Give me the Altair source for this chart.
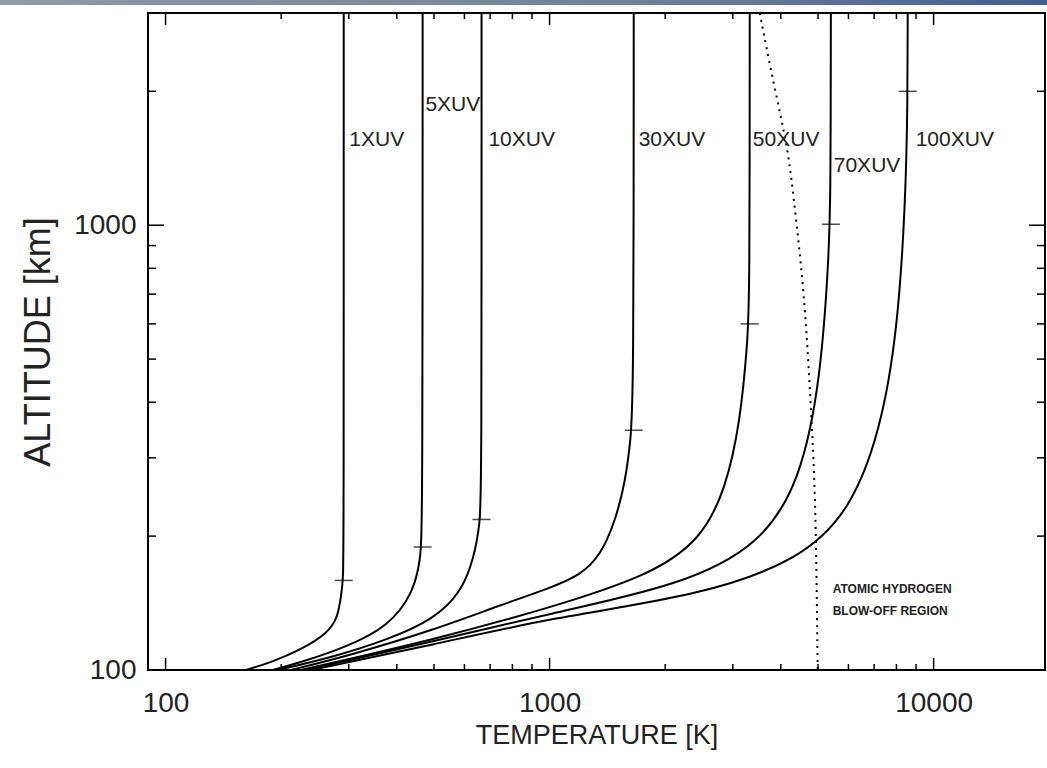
import altair as alt
import pandas as pd

# ---- data ----
curve_names = ["1XUV", "5XUV", "10XUV", "30XUV", "50XUV", "70XUV", "100XUV"]

T_1XUV = [162, 188, 225, 264, 281, 287, 290, 291, 291]
Z_1XUV = [100, 104, 111, 121, 131, 149, 159, 200, 3000]

T_5XUV = [190, 225, 298, 379, 442, 461, 467, 467]
Z_5XUV = [100, 104, 113, 125, 149, 177, 210, 3000]

T_10XUV = [196, 274, 379, 499, 587, 634, 660, 665, 665]
Z_10XUV = [100, 107, 117, 130, 149, 177, 215, 260, 3000]

T_30XUV = [212, 303, 499, 746, 1006, 1204, 1358, 1485, 1577, 1625, 1655, 1656]
Z_30XUV = [100, 108, 123, 140, 153, 163.5, 181, 217, 267, 329, 404, 3000]

T_50XUV = [225, 499, 1006, 1833, 2472, 2873, 3143, 3278, 3318, 3320]
Z_50XUV = [100, 117, 138, 163.5, 196, 254, 365, 551, 678, 3000]

T_70XUV = [231, 499, 1006, 2193, 3544, 4504, 5077, 5329, 5393, 5400]
Z_70XUV = [100, 116, 134, 155, 191, 267, 449, 834, 1138, 3000]

T_100XUV = [239, 499, 1006, 2472, 4504, 6080, 7278, 8059, 8455, 8557, 8560]
Z_100XUV = [100, 114, 131, 147, 177, 229, 346, 581, 1138, 1910, 3000]

# tick-like markers on each curve
marker_T = [291, 467, 665, 1656, 3320, 5400, 8560]
marker_Z = [159, 189, 218, 346, 600, 1005, 2000]

# curve labels
label_T = [301, 475, 693, 1706, 3383, 5495, 8980]
label_Z = [1552, 1862, 1552, 1552, 1552, 1358, 1552]

# atomic hydrogen blow-off boundary (dotted)
blow_T = [3525, 3828, 4170, 4318, 4508, 4670, 4810, 4930, 4990]
blow_Z = [3000, 2084, 1496, 1156, 834, 581, 365, 241, 100]

note_lines = ["ATOMIC HYDROGEN", "BLOW-OFF REGION"]
note_T = [5460, 5460]
note_Z = [152, 136]

x_major = [100, 1000, 10000]
x_minor = [200, 300, 400, 500, 600, 700, 800, 900,
           2000, 3000, 4000, 5000, 6000, 7000, 8000, 9000]
y_major = [100, 1000]
y_minor = [200, 300, 400, 500, 600, 700, 800, 900, 2000]

# ---- build tables ----
series = {
    "1XUV": (T_1XUV, Z_1XUV), "5XUV": (T_5XUV, Z_5XUV), "10XUV": (T_10XUV, Z_10XUV),
    "30XUV": (T_30XUV, Z_30XUV), "50XUV": (T_50XUV, Z_50XUV),
    "70XUV": (T_70XUV, Z_70XUV), "100XUV": (T_100XUV, Z_100XUV),
}
rows = []
for name in curve_names:
    Ts, Zs = series[name]
    for i, (t, z) in enumerate(zip(Ts, Zs)):
        rows.append({"curve": name, "T": t, "Z": z, "i": i})
curves_df = pd.DataFrame(rows)
markers_df = pd.DataFrame({"T": marker_T, "Z": marker_Z})
labels_df = pd.DataFrame({"T": label_T, "Z": label_Z, "text": curve_names})
blow_df = pd.DataFrame({"T": blow_T, "Z": blow_Z, "i": list(range(len(blow_T)))})
note_df = pd.DataFrame({"T": note_T, "Z": note_Z, "text": note_lines})

W, H = 897, 657
FONT = "Liberation Sans"
TXT = "#222222"

xs = alt.Scale(type="log", domain=[90, 19500], nice=False)
ys = alt.Scale(type="log", domain=[100, 3000], nice=False)

x_axis = alt.Axis(values=x_major, format="d", title="TEMPERATURE [K]", ticks=False,
                  domain=False, grid=False, labelFontSize=28, titleFontSize=27,
                  labelFont=FONT, titleFont=FONT, labelColor=TXT, titleColor=TXT,
                  titleFontWeight="normal", labelPadding=19, titlePadding=5,
                  labelFlush=False)
y_axis = alt.Axis(values=y_major, format="d", title="ALTITUDE [km]", ticks=False,
                  domain=False, grid=False, labelFontSize=28, titleFontSize=36,
                  labelFont=FONT, titleFont=FONT, labelColor=TXT, titleColor=TXT,
                  titleFontWeight="normal", labelPadding=12, titlePadding=16,
                  labelFlush=False)

X = alt.X("T:Q", scale=xs, axis=x_axis)
Y = alt.Y("Z:Q", scale=ys, axis=y_axis)

lines = alt.Chart(curves_df).mark_line(color="black", strokeWidth=2,
                                       interpolate="basis", clip=True).encode(
    x=X, y=Y, detail="curve:N", order="i:Q",
)

markers = alt.Chart(markers_df).mark_tick(color="black", orient="horizontal",
                                          size=18, thickness=1.5).encode(x=X, y=Y)

labels = alt.Chart(labels_df).mark_text(align="left", baseline="middle", fontSize=21,
                                        font=FONT, color=TXT).encode(
    x=X, y=Y, text="text:N",
)

blow = alt.Chart(blow_df).mark_line(color="black", strokeWidth=2, strokeDash=[2, 5],
                                    interpolate="basis", clip=True).encode(
    x=X, y=Y, order="i:Q",
)

note = alt.Chart(note_df).mark_text(align="left", baseline="middle", fontSize=12,
                                    font=FONT, fontWeight="bold", color=TXT).encode(
    x=X, y=Y, text="text:N",
)

def xticks(vals, length):
    df = pd.DataFrame({"T": vals})
    base = alt.Chart(df).mark_rule(color="black", strokeWidth=1.5)
    bot = base.encode(x=X, y=alt.value(H), y2=alt.value(H - length))
    top = base.encode(x=X, y=alt.value(0), y2=alt.value(length))
    return [bot, top]

def yticks(vals, length):
    df = pd.DataFrame({"Z": vals})
    base = alt.Chart(df).mark_rule(color="black", strokeWidth=1.5)
    left = base.encode(y=Y, x=alt.value(0), x2=alt.value(length))
    right = base.encode(y=Y, x=alt.value(W), x2=alt.value(W - length))
    return [left, right]

header = alt.Chart(pd.DataFrame({"a": [0]})).mark_rect(
    color=alt.LinearGradient(gradient="linear", x1=0, x2=1, y1=0, y2=0,
                             stops=[alt.GradientStop(color="#8e9ca6", offset=0),
                                    alt.GradientStop(color="#6f8299", offset=0.6),
                                    alt.GradientStop(color="#44608f", offset=1)])
).encode(x=alt.value(-148), x2=alt.value(W + 2), y=alt.value(-13), y2=alt.value(-8))

chart = alt.layer(
    lines, blow, markers, labels, note,
    *xticks(x_major, 12), *xticks(x_minor, 6),
    *yticks(y_major, 16), *yticks(y_minor, 8),
    header,
).properties(
    width=W, height=H,
    padding={"left": 148, "top": 13, "right": 2, "bottom": 98},
    autosize=alt.AutoSizeParams(type="none"),
    background="white",
).configure_view(stroke="black", strokeWidth=2)

chart.save("out.html", embed_options={"renderer": "svg", "actions": False})
